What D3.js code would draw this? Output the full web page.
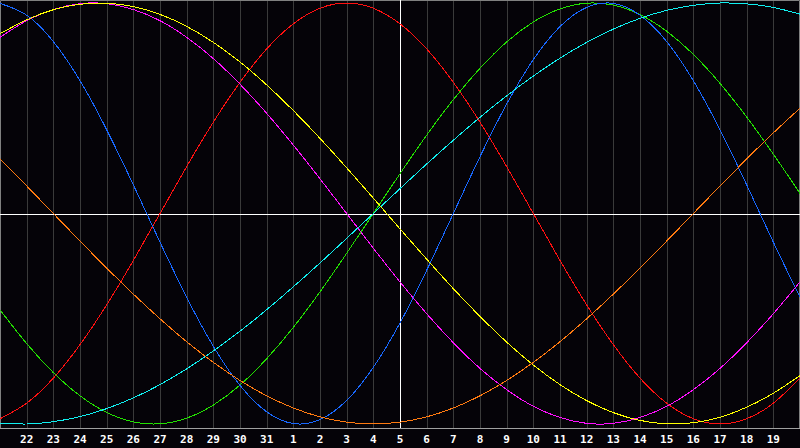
<!DOCTYPE html>
<html>
<head>
<meta charset="utf-8">
<script src="https://cdn.jsdelivr.net/npm/d3@7.9.0/dist/d3.min.js"></script>
<style>
  html, body { margin: 0; padding: 0; background: #050308; }
  svg { display: block; }
</style>
</head>
<body>
<svg id="chart" width="800" height="448"></svg>
<script>
// day labels under each grid line (k = 1..29)
const dayLabels = ['22','23','24','25','26','27','28','29','30','31',
  '1','2','3','4','5','6','7','8','9','10','11','12','13','14','15','16','17','18','19'];
const todayIndex = 15; // "5"

// values (percent) read at each grid position k = 0..30
const physical = [99.8,94.2,81.7,63.1,39.8,13.6,-13.6,-39.8,-63.1,-81.7,-94.2,-99.8,-97.9,-88.8,-73.1,-52.0,-27.0,0,27.0,52.0,73.1,88.8,97.9,99.8,94.2,81.7,63.1,39.8,13.6,-13.6,-39.8];
const emotional = [-97.5,-90.1,-78.2,-62.3,-43.4,-22.3,0,22.3,43.4,62.3,78.2,90.1,97.5,100,97.5,90.1,78.2,62.3,43.4,22.3,0,-22.3,-43.4,-62.3,-78.2,-90.1,-97.5,-100,-97.5,-90.1,-78.2];
const intellectual = [-45.8,-61.8,-75.6,-86.6,-94.5,-99.0,-99.9,-97.2,-91.0,-81.5,-69.0,-54.1,-37.2,-18.9,0,18.9,37.2,54.1,69.0,81.5,91.0,97.2,99.9,99.0,94.5,86.6,75.6,61.8,45.8,28.2,9.5];
const intuitive = [83.7,91.6,96.9,99.7,99.7,96.9,91.6,83.7,73.6,61.4,47.6,32.5,16.5,0,-16.5,-32.5,-47.6,-61.4,-73.6,-83.7,-91.6,-96.9,-99.7,-99.7,-96.9,-91.6,-83.7,-73.6,-61.4,-47.6,-32.5];
const aesthetic = [85.4,92.0,96.8,99.4,99.9,98.3,94.6,88.9,81.3,72.0,61.1,48.9,35.7,21.7,7.3,-7.3,-21.7,-35.7,-48.9,-61.1,-72.0,-81.3,-88.9,-94.6,-98.3,-99.9,-99.4,-96.8,-92.0,-85.4,-77.0];
const awareness = [25.9,13.1,0,-13.1,-25.9,-38.3,-50.0,-60.9,-70.7,-79.3,-86.6,-92.4,-96.6,-99.1,-100,-99.1,-96.6,-92.4,-86.6,-79.3,-70.7,-60.9,-50.0,-38.3,-25.9,-13.1,0,13.1,25.9,38.3,50.0];
const spiritual = [-99.6,-100,-98.9,-96.5,-92.7,-87.6,-81.3,-73.8,-65.3,-55.9,-45.7,-34.8,-23.5,-11.8,0,11.8,23.5,34.8,45.7,55.9,65.3,73.8,81.3,87.6,92.7,96.5,98.9,100,99.6,97.9,94.7];

const series = [
  { name: 'emotional', values: emotional, color: '#ff1010' },
  { name: 'intellectual', values: intellectual, color: '#22e000' },
  { name: 'physical', values: physical, color: '#1868ff' },
  { name: 'spiritual', values: spiritual, color: '#10f0f0' },
  { name: 'intuitive', values: intuitive, color: '#ff10ff' },
  { name: 'aesthetic', values: aesthetic, color: '#ffff00' },
  { name: 'awareness', values: awareness, color: '#ff7a10' },
];

const width = 800, height = 448, plotBottom = 428;
const svg = d3.select('#chart');

const x = d3.scaleLinear().domain([0, 30]).range([0, width]);
const y = d3.scaleLinear().domain([-100, 100]).range([424, 3]);

// background
svg.append('rect').attr('width', width).attr('height', height).attr('fill', '#050308');

// vertical day grid
const gridIdx = d3.range(1, 30);
svg.append('g')
  .selectAll('line')
  .data(gridIdx)
  .join('line')
  .attr('x1', d => Math.round(x(d)) + 0.5)
  .attr('x2', d => Math.round(x(d)) + 0.5)
  .attr('y1', 0)
  .attr('y2', plotBottom)
  .attr('stroke', '#3a3a3a')
  .attr('stroke-width', 1);

// frame
svg.append('path')
  .attr('d', `M0.5,${plotBottom} V0.5 H${width - 0.5} V${plotBottom}`)
  .attr('fill', 'none')
  .attr('stroke', '#808080');
svg.append('line')
  .attr('x1', 0).attr('x2', width)
  .attr('y1', plotBottom + 0.5).attr('y2', plotBottom + 0.5)
  .attr('stroke', '#a0a0a0');

// zero line and today marker
svg.append('line')
  .attr('x1', 0).attr('x2', width)
  .attr('y1', Math.round(y(0)) + 0.5).attr('y2', Math.round(y(0)) + 0.5)
  .attr('stroke', '#ffffff');
svg.append('line')
  .attr('x1', Math.round(x(todayIndex)) + 0.5).attr('x2', Math.round(x(todayIndex)) + 0.5)
  .attr('y1', 0).attr('y2', plotBottom)
  .attr('stroke', '#ffffff');

// curves
const line = d3.line()
  .x((d, i) => x(i))
  .y(d => y(d))
  .curve(d3.curveNatural);

svg.append('g')
  .selectAll('path')
  .data(series)
  .join('path')
  .attr('d', d => line(d.values))
  .attr('fill', 'none')
  .attr('stroke', d => d.color)
  .attr('stroke-width', 1)
  .attr('shape-rendering', 'crispEdges');

// day labels
svg.append('g')
  .selectAll('text')
  .data(dayLabels)
  .join('text')
  .attr('x', (d, i) => x(i + 1))
  .attr('y', 443)
  .attr('text-anchor', 'middle')
  .attr('fill', '#ffffff')
  .style('font-family', '"DejaVu Sans Mono", monospace')
  .style('font-weight', 'bold')
  .style('font-size', '11px')
  .text(d => d);
</script>
</body>
</html>
